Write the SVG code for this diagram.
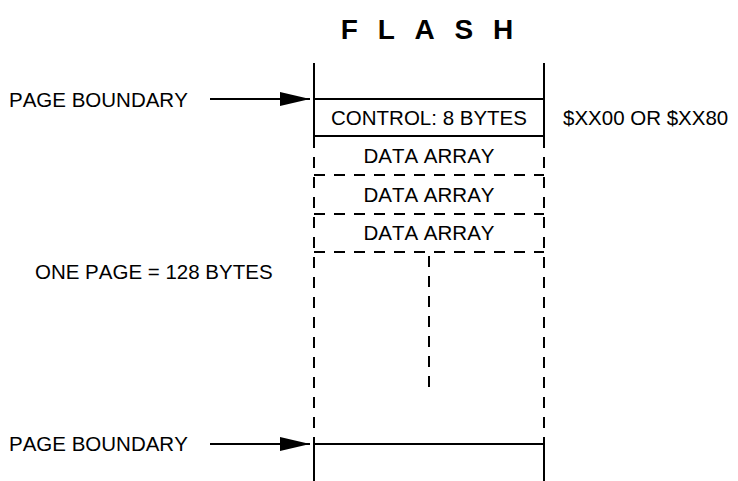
<svg xmlns="http://www.w3.org/2000/svg" width="738" height="481" viewBox="0 0 738 481">
<defs>
<marker id="ah" markerWidth="30" markerHeight="14" refX="30" refY="7" orient="auto" markerUnits="userSpaceOnUse">
<path d="M0,0 L30,7 L0,14 Z" fill="#000"/>
</marker>
<style>
.t{font-family:"Liberation Sans",Arial,sans-serif;font-size:20.5px;fill:#000;font-kerning:none}
.c{text-anchor:middle}
.s{stroke:#000;stroke-width:2;fill:none}
.d{stroke:#000;stroke-width:2;fill:none;stroke-dasharray:11 9}
</style>
</defs>
<rect width="738" height="481" fill="#fff"/>
<text x="430" y="39" class="t c" style="font-weight:bold;font-size:28px;letter-spacing:6px">F L A S H</text>
<g id="flash-column">
<line class="s" x1="314" y1="63" x2="314" y2="137"/>
<line class="s" x1="544" y1="63" x2="544" y2="137"/>
<line class="d" x1="314" y1="137" x2="314" y2="444"/>
<line class="d" x1="544" y1="137" x2="544" y2="444"/>
<line class="s" x1="314" y1="444" x2="314" y2="481"/>
<line class="s" x1="544" y1="444" x2="544" y2="481"/>
</g>
<g id="control">
<line class="s" x1="314" y1="99" x2="544" y2="99"/>
<line class="s" x1="314" y1="136" x2="544" y2="136"/>
<text x="429" y="125" class="t c">CONTROL: 8 BYTES</text>
</g>
<g id="data1"><text x="429" y="163" class="t c">DATA ARRAY</text></g>
<g id="data2">
<line class="d" x1="314" y1="175" x2="544" y2="175"/>
<text x="429" y="202" class="t c">DATA ARRAY</text>
</g>
<g id="data3">
<line class="d" x1="314" y1="214" x2="544" y2="214"/>
<text x="429" y="240" class="t c">DATA ARRAY</text>
<line class="d" x1="314" y1="252" x2="544" y2="252"/>
</g>
<g id="middle"><line class="d" x1="429" y1="256" x2="429" y2="395"/></g>
<g id="bottom-boundary"><line class="s" x1="314" y1="444" x2="544" y2="444"/></g>
<g id="labels">
<text x="9" y="107" class="t">PAGE BOUNDARY</text>
<text x="563" y="125" class="t">$XX00 OR $XX80</text>
<text x="35" y="279" class="t">ONE PAGE = 128 BYTES</text>
<text x="9" y="451" class="t">PAGE BOUNDARY</text>
</g>
<g id="connectors">
<line class="s" x1="210" y1="99" x2="310" y2="99" marker-end="url(#ah)"/>
<line class="s" x1="210" y1="444" x2="310" y2="444" marker-end="url(#ah)"/>
</g>
</svg>
